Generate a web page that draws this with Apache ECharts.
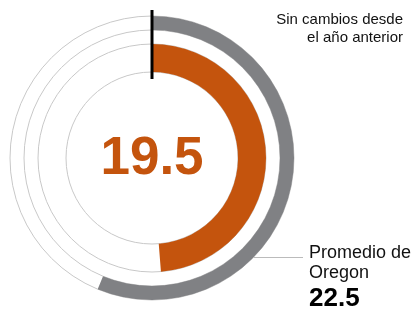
<!DOCTYPE html>
<html><head><meta charset="utf-8">
<script src="https://cdn.jsdelivr.net/npm/echarts@6/dist/echarts.min.js"></script>
<style>html,body{margin:0;padding:0;background:#fff}#c{width:417px;height:311px}</style>
</head><body><div id="c"></div>
<script>
const scaleMax = 40;
const schoolValue = 19.5;
const stateValue = 22.5;
const centerLabel = ['19.5'];
const noteLines = ['Sin cambios desde', 'el año anterior'];
const stateLabelLines = ['Promedio de', 'Oregon'];
const stateValueLabel = ['22.5'];

const cx = 152, cy = 158;
const orange = '#c4540d', grey = '#808184', thin = '#c8c8c8';
const font = '"Liberation Sans", Arial, sans-serif';

function ringSeries(r, value, color, z) {
  return {
    type: 'pie', radius: r, center: [cx, cy], startAngle: 90, clockwise: true,
    silent: true, label: {show: false}, labelLine: {show: false}, z: z,
    emphasis: {disabled: true}, animation: false,
    data: [
      {value: value, itemStyle: {color: color, borderWidth: 0}},
      {value: scaleMax - value, itemStyle: {color: 'rgba(0,0,0,0)', borderWidth: 0}}
    ]
  };
}
function outline(r, z) {
  return {
    type: 'pie', radius: r, center: [cx, cy], silent: true, animation: false,
    label: {show: false}, labelLine: {show: false}, z: z, emphasis: {disabled: true},
    data: [{value: 1, itemStyle: {color: 'rgba(0,0,0,0)', borderColor: thin, borderWidth: 1}}]
  };
}

const chart = echarts.init(document.getElementById('c'), null, {renderer: 'canvas'});
chart.setOption({
  animation: false,
  series: [
    outline([128, 142], 1),
    outline([86, 114], 1),
    ringSeries([128, 142], stateValue, grey, 2),
    ringSeries([86, 114], schoolValue, orange, 2)
  ],
  graphic: [
    {type: 'line', z: 10, shape: {x1: cx, y1: 10, x2: cx, y2: 79}, style: {stroke: '#000', lineWidth: 3}},
    {type: 'line', z: 10, shape: {x1: 253, y1: 257.5, x2: 303, y2: 257.5}, style: {stroke: '#bbbbbb', lineWidth: 1}},
    {type: 'text', z: 10, x: cx, y: cy + 1, style: {text: centerLabel[0], fill: orange, font: 'bold 53px ' + font, align: 'center', verticalAlign: 'middle'}},
    {type: 'text', z: 10, x: 403, y: 11, style: {text: noteLines.join('\n'), fill: '#111', font: '15px ' + font, align: 'right', verticalAlign: 'top', lineHeight: 18}},
    {type: 'text', z: 10, x: 309, y: 243, style: {text: stateLabelLines.join('\n'), fill: '#111', font: '18px ' + font, align: 'left', verticalAlign: 'top', lineHeight: 20}},
    {type: 'text', z: 10, x: 309, y: 286, style: {text: stateValueLabel[0], fill: '#000', font: 'bold 26px ' + font, align: 'left', verticalAlign: 'top'}}
  ]
});
</script></body></html>
